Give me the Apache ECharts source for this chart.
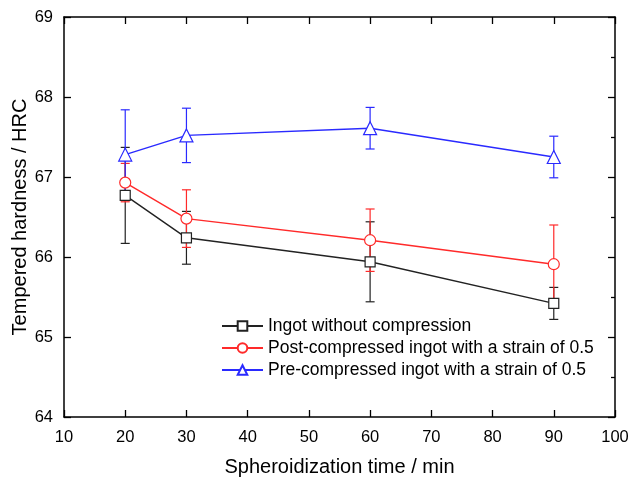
<!DOCTYPE html>
<html><head><meta charset="utf-8">
<script src="https://cdn.jsdelivr.net/npm/echarts@6/dist/echarts.min.js"></script>
<style>html,body{margin:0;padding:0;background:#fff}#c{width:630px;height:477px}</style>
</head><body><div id="c"></div>
<script>
const times = [20, 30, 60, 90];
const ingot = [66.77, 66.24, 65.94, 65.42];
const ingotErr = [0.60, 0.33, 0.50, 0.20];
const post = [66.93, 66.48, 66.21, 65.91];
const postErr = [0.24, 0.36, 0.39, 0.49];
const pre = [67.28, 67.52, 67.61, 67.25];
const preErr = [0.56, 0.34, 0.26, 0.26];
const names = ['Ingot without compression', 'Post-compressed ingot with a strain of 0.5', 'Pre-compressed ingot with a strain of 0.5'];
const xTicks = [10, 100, 10];
const yTicks = [64, 69, 1];

const FONT = 'Liberation Sans, Arial, sans-serif';
const colors = ['#222222', '#ff2a2a', '#2a2aff'];
const symbols = ['rect', 'circle', 'triangle'];
const symSizes = [10, 11, 13];
const vals = [ingot, post, pre];
const errs = [ingotErr, postErr, preErr];

function errSeries(i) {
  return {
    type: 'custom', xAxisIndex: 0, yAxisIndex: 0, z: 3, silent: true,
    data: times.map((t, k) => [t, vals[i][k] - errs[i][k], vals[i][k] + errs[i][k]]),
    renderItem: function (params, api) {
      const lo = api.coord([api.value(0), api.value(1)]);
      const hi = api.coord([api.value(0), api.value(2)]);
      const w = 4.5;
      const st = { stroke: colors[i], lineWidth: 1.2 };
      return { type: 'group', children: [
        { type: 'line', shape: { x1: lo[0], y1: lo[1], x2: hi[0], y2: hi[1] }, style: st },
        { type: 'line', shape: { x1: lo[0] - w, y1: lo[1], x2: lo[0] + w, y2: lo[1] }, style: st },
        { type: 'line', shape: { x1: hi[0] - w, y1: hi[1], x2: hi[0] + w, y2: hi[1] }, style: st }
      ]};
    }
  };
}
function lineSeries(i) {
  return {
    name: names[i], type: 'line', xAxisIndex: 0, yAxisIndex: 0, z: 4,
    data: times.map((t, k) => [t, vals[i][k]]),
    symbol: symbols[i], symbolSize: symSizes[i], showAllSymbol: true,
    lineStyle: { color: colors[i], width: 1.4 },
    itemStyle: { color: '#fff', borderColor: colors[i], borderWidth: 1.2 },
    emphasis: { disabled: true }, animation: false
  };
}
const axisLine = { show: true, lineStyle: { color: '#000', width: 1.5 } };
const chart = echarts.init(document.getElementById('c'));
chart.setOption({
  animation: false,
  textStyle: { fontFamily: FONT },
  grid: { left: 64, right: 15, top: 17, bottom: 60, containLabel: false, outerBoundsMode: 'none' },
  legend: {
    orient: 'vertical', left: 221, top: 317, padding: 0, itemWidth: 41, itemHeight: 12, itemGap: 4,
    data: names,
    textStyle: { fontFamily: FONT, fontSize: 17.5, color: '#000', lineHeight: 18 },
    selectedMode: false
  },
  xAxis: [{
    type: 'value', min: xTicks[0], max: xTicks[1], interval: xTicks[2], position: 'bottom',
    name: 'Spheroidization time / min', nameLocation: 'middle', nameGap: 40, nameMoveOverlap: false,
    nameTextStyle: { fontFamily: FONT, fontSize: 20, color: '#000' },
    axisLine: axisLine, axisTick: { inside: true, length: 7, lineStyle: { color: '#000', width: 1.3 } },
    axisLabel: { fontFamily: FONT, fontSize: 16.5, color: '#000', margin: 12 },
    splitLine: { show: false }
  }, {
    type: 'value', min: xTicks[0], max: xTicks[1], interval: xTicks[2], position: 'top',
    axisLine: axisLine, axisTick: { inside: true, length: 7, lineStyle: { color: '#000', width: 1.3 } },
    axisLabel: { show: false }, splitLine: { show: false }
  }],
  yAxis: [{
    type: 'value', min: yTicks[0], max: yTicks[1], interval: yTicks[2], position: 'left',
    name: 'Tempered hardness / HRC', nameLocation: 'middle', nameGap: 34, nameMoveOverlap: false,
    nameTextStyle: { fontFamily: FONT, fontSize: 20, color: '#000' },
    axisLine: axisLine, axisTick: { inside: true, length: 7, lineStyle: { color: '#000', width: 1.3 } },
    axisLabel: { fontFamily: FONT, fontSize: 16.5, color: '#000', margin: 11 },
    splitLine: { show: false }
  }, {
    type: 'value', min: yTicks[0], max: yTicks[1], interval: yTicks[2], position: 'right',
    axisLine: axisLine, axisTick: { inside: true, length: 7, lineStyle: { color: '#000', width: 1.3 } },
    minorTick: { show: true, splitNumber: 2, length: 4, lineStyle: { color: '#000', width: 1.3 } },
    axisLabel: { show: false }, splitLine: { show: false }
  }],
  series: [errSeries(0), errSeries(1), errSeries(2), lineSeries(0), lineSeries(1), lineSeries(2)]
});
</script></body></html>
